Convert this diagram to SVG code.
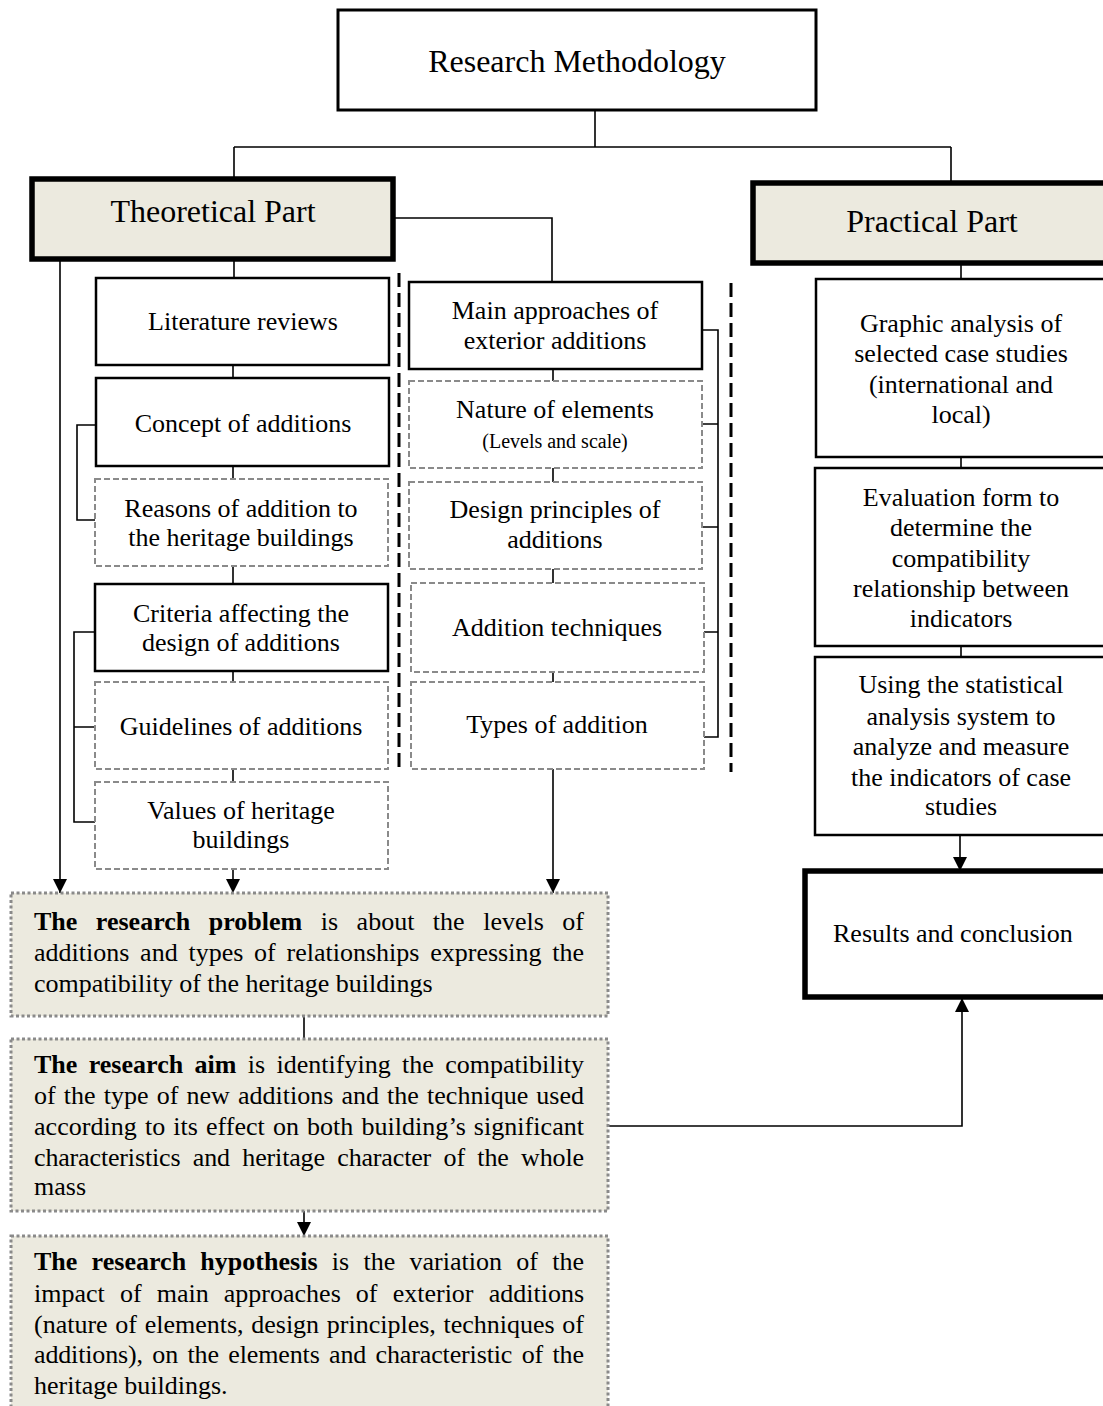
<svg xmlns="http://www.w3.org/2000/svg" width="1103" height="1406" viewBox="0 0 1103 1406" font-family="'Liberation Serif', 'DejaVu Serif', serif">
<style>
text{font-family:'Liberation Serif','DejaVu Serif',serif;fill:#000}
.t26{font-size:26px}
.t20{font-size:20px}
.t32{font-size:32px}
.c{text-anchor:middle}
.b{font-weight:bold}
.solid{fill:#fff;stroke:#000;stroke-width:2.5}
.dash{fill:#fff;stroke:#8a8a8a;stroke-width:2;stroke-dasharray:6 3}
.thick{fill:#ECEADF;stroke:#000;stroke-width:5.5}
.thickw{fill:#fff;stroke:#000;stroke-width:5.5}
.dot{fill:#ECEADF;stroke:#8a8a8a;stroke-width:3;stroke-dasharray:3 2.5}
.ln{fill:none;stroke:#000;stroke-width:1.6}
.sep{fill:none;stroke:#000;stroke-width:3;stroke-dasharray:14 6}
</style>
<defs>
<marker id="ah" markerUnits="userSpaceOnUse" markerWidth="14" markerHeight="14" refX="14" refY="7" orient="auto">
<path d="M0,0 L14,7 L0,14 z" fill="#000"/>
</marker>
</defs>
<g id="connectors">
<path class="ln" d="M595,110 V147 M234,147 H951 M234,147 V178 M951,147 V182"/>
<path class="ln" d="M234,260 V278 M233,365 V378 M233,466 V479 M233,566 V584 M233,671 V682 M233,769 V782"/>
<path class="ln" d="M96,425 H77 V520 H95 M95,632 H74 V822 H95 M74,727 H95"/>
<path class="ln" d="M393,218 H552 V282"/>
<path class="ln" d="M553,369 V381 M553,468 V482 M553,569 V583 M553,672 V682"/>
<path class="ln" d="M702,330 H718 V737 H704 M702,424 H718 M702,527 H718 M704,632 H718"/>
<path class="sep" d="M399,273 V772 M731,283 V772"/>
<path class="ln" d="M60,260 V893" marker-end="url(#ah)"/>
<path class="ln" d="M233,869 V893" marker-end="url(#ah)"/>
<path class="ln" d="M553,769 V893" marker-end="url(#ah)"/>
<path class="ln" d="M304,1016 V1039"/>
<path class="ln" d="M304,1211 V1236" marker-end="url(#ah)"/>
<path class="ln" d="M608,1126 H962 V998" marker-end="url(#ah)"/>
<path class="ln" d="M961,263 V279 M961,457 V468 M961,646 V657"/>
<path class="ln" d="M960,835 V871" marker-end="url(#ah)"/>
</g>
<g id="research-methodology">
<rect x="338" y="10" width="478" height="100" fill="#fff" stroke="#000" stroke-width="3"/>
<text class="t32 c" x="577" y="72">Research Methodology</text>
</g>
<g id="theoretical-part">
<rect class="thick" x="32" y="179" width="361" height="80"/>
<text class="t32 c" x="213" y="222">Theoretical Part</text>
</g>
<g id="practical-part">
<rect class="thick" x="753" y="183" width="360" height="80"/>
<text class="t32 c" x="932" y="232">Practical Part</text>
</g>
<g id="literature-reviews">
<rect class="solid" x="96" y="278" width="293" height="87"/>
<text class="t26 c" x="243" y="330">Literature reviews</text>
</g>
<g id="concept-of-additions">
<rect class="solid" x="96" y="378" width="293" height="88"/>
<text class="t26 c" x="243" y="432">Concept of additions</text>
</g>
<g id="reasons-of-addition">
<rect class="dash" x="95" y="479" width="293" height="87"/>
<text class="t26 c" x="241" y="517">Reasons of addition to</text>
<text class="t26 c" x="241" y="546">the heritage buildings</text>
</g>
<g id="criteria">
<rect class="solid" x="95" y="584" width="293" height="87"/>
<text class="t26 c" x="241" y="622">Criteria affecting the</text>
<text class="t26 c" x="241" y="651">design of additions</text>
</g>
<g id="guidelines">
<rect class="dash" x="95" y="682" width="293" height="87"/>
<text class="t26 c" x="241" y="735">Guidelines of additions</text>
</g>
<g id="values">
<rect class="dash" x="95" y="782" width="293" height="87"/>
<text class="t26 c" x="241" y="819">Values of heritage</text>
<text class="t26 c" x="241" y="848">buildings</text>
</g>
<g id="main-approaches">
<rect class="solid" x="409" y="282" width="293" height="87"/>
<text class="t26 c" x="555" y="319">Main approaches of</text>
<text class="t26 c" x="555" y="349">exterior additions</text>
</g>
<g id="nature-of-elements">
<rect class="dash" x="409" y="381" width="293" height="87"/>
<text class="t26 c" x="555" y="418">Nature of elements</text>
<text class="t20 c" x="555" y="448">(Levels and scale)</text>
</g>
<g id="design-principles">
<rect class="dash" x="409" y="482" width="293" height="87"/>
<text class="t26 c" x="555" y="518">Design principles of</text>
<text class="t26 c" x="555" y="548">additions</text>
</g>
<g id="addition-techniques">
<rect class="dash" x="411" y="583" width="293" height="89"/>
<text class="t26 c" x="557" y="636">Addition techniques</text>
</g>
<g id="types-of-addition">
<rect class="dash" x="411" y="682" width="293" height="87"/>
<text class="t26 c" x="557" y="733">Types of addition</text>
</g>
<g id="graphic-analysis">
<rect class="solid" x="816" y="279" width="295" height="178"/>
<text class="t26 c" x="961" y="332">Graphic analysis of</text>
<text class="t26 c" x="961" y="362">selected case studies</text>
<text class="t26 c" x="961" y="393">(international and</text>
<text class="t26 c" x="961" y="423">local)</text>
</g>
<g id="evaluation-form">
<rect class="solid" x="815" y="468" width="296" height="178"/>
<text class="t26 c" x="961" y="506">Evaluation form to</text>
<text class="t26 c" x="961" y="536">determine the</text>
<text class="t26 c" x="961" y="567">compatibility</text>
<text class="t26 c" x="961" y="597">relationship between</text>
<text class="t26 c" x="961" y="627">indicators</text>
</g>
<g id="statistical-analysis">
<rect class="solid" x="815" y="657" width="296" height="178"/>
<text class="t26 c" x="961" y="693">Using the statistical</text>
<text class="t26 c" x="961" y="725">analysis system to</text>
<text class="t26 c" x="961" y="755">analyze and measure</text>
<text class="t26 c" x="961" y="786">the indicators of case</text>
<text class="t26 c" x="961" y="815">studies</text>
</g>
<g id="results-and-conclusion">
<rect class="thickw" x="805" y="871" width="310" height="126"/>
<text class="t26" x="833" y="942">Results and conclusion</text>
</g>
<g id="research-problem">
<rect class="dot" x="11" y="893" width="597" height="123"/>
<text class="t26" x="34" y="930" word-spacing="12" textLength="550" lengthAdjust="spacing"><tspan class="b">The research problem</tspan> is about the levels of</text>
<text class="t26" x="34" y="961" word-spacing="4.3" textLength="550" lengthAdjust="spacing">additions and types of relationships expressing the</text>
<text class="t26" x="34" y="992">compatibility of the heritage buildings</text>
</g>
<g id="research-aim">
<rect class="dot" x="11" y="1039" width="597" height="172"/>
<text class="t26" x="34" y="1073" word-spacing="4.8" textLength="550" lengthAdjust="spacing"><tspan class="b">The research aim</tspan> is identifying the compatibility</text>
<text class="t26" x="34" y="1104" word-spacing="1.6" textLength="550" lengthAdjust="spacing">of the type of new additions and the technique used</text>
<text class="t26" x="34" y="1135" word-spacing="1.5" textLength="550" lengthAdjust="spacing">according to its effect on both building’s significant</text>
<text class="t26" x="34" y="1166" word-spacing="6.1" textLength="550" lengthAdjust="spacing">characteristics and heritage character of the whole</text>
<text class="t26" x="34" y="1195">mass</text>
</g>
<g id="research-hypothesis">
<rect class="dot" x="11" y="1236" width="597" height="190"/>
<text class="t26" x="34" y="1270" word-spacing="7.7" textLength="550" lengthAdjust="spacing"><tspan class="b">The research hypothesis</tspan> is the variation of the</text>
<text class="t26" x="34" y="1302" word-spacing="8.6" textLength="550" lengthAdjust="spacing">impact of main approaches of exterior additions</text>
<text class="t26" x="34" y="1333" word-spacing="1.2" textLength="550" lengthAdjust="spacing">(nature of elements, design principles, techniques of</text>
<text class="t26" x="34" y="1363" word-spacing="3.1" textLength="550" lengthAdjust="spacing">additions), on the elements and characteristic of the</text>
<text class="t26" x="34" y="1394">heritage buildings.</text>
</g>
</svg>
